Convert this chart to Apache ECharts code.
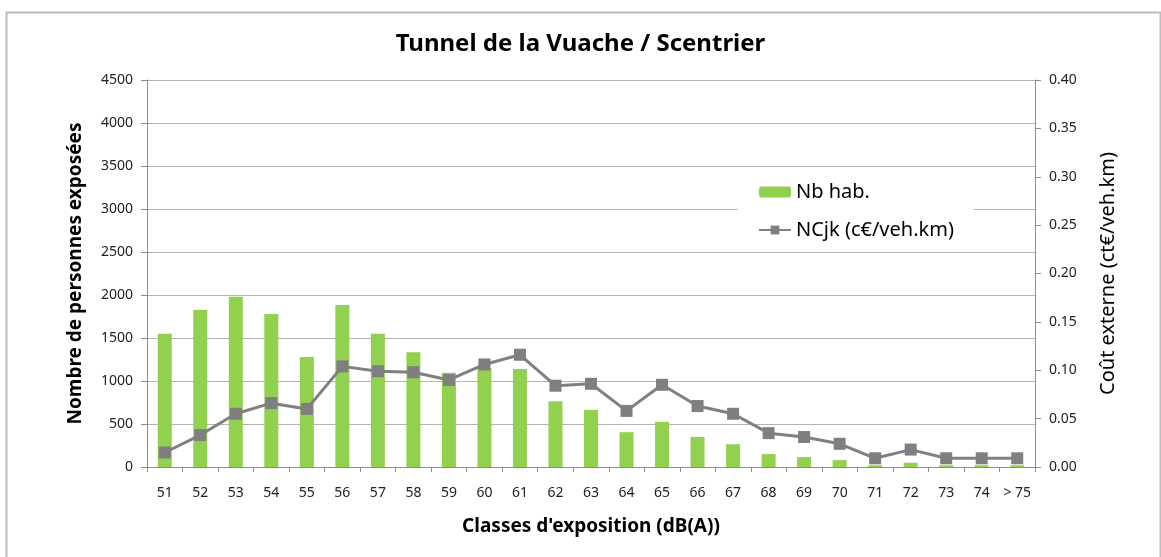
<!DOCTYPE html>
<html>
<head>
<meta charset="utf-8">
<script src="https://cdn.jsdelivr.net/npm/echarts@6/dist/echarts.min.js"></script>
<style>
  html, body { margin: 0; padding: 0; background: #fff; }
  #mainChart { width: 1161px; height: 557px; }
</style>
</head>
<body>
<div id="mainChart"></div>
<script>
// exposure classes dB(A)
var classes = ['51', '52', '53', '54', '55', '56', '57', '58', '59', '60', '61', '62', '63',
    '64', '65', '66', '67', '68', '69', '70', '71', '72', '73', '74', '> 75'];

// number of inhabitants exposed (left axis)
var nbHab = [1550, 1825, 1980, 1780, 1280, 1885, 1550, 1335, 1095, 1150, 1140, 765, 665,
    405, 525, 350, 265, 150, 115, 80, 20, 50, 20, 20, 20];

// external cost c€/veh.km (right axis)
var ncjk = [0.015, 0.033, 0.055, 0.066, 0.060, 0.104, 0.099, 0.098, 0.090, 0.106, 0.116, 0.084, 0.086,
    0.058, 0.085, 0.063, 0.055, 0.035, 0.031, 0.024, 0.009, 0.018, 0.009, 0.009, 0.009];

var font = 'Noto Sans';
var myChart = echarts.init(document.getElementById('mainChart'));

var option = {
    backgroundColor: '#fff',
    animation: false,
    textStyle: { fontFamily: font },
    title: {
        text: 'Tunnel de la Vuache / Scentrier',
        left: 'center',
        top: 27,
        textStyle: { fontFamily: font, fontSize: 24, fontWeight: 'bold', color: '#000' }
    },
    graphic: [{
        type: 'rect',
        left: 4, top: 10,
        shape: { width: 1154, height: 550 },
        style: { fill: 'none', stroke: '#bdbdbd', lineWidth: 2 },
        silent: true
    }],
    legend: {
        orient: 'vertical',
        left: 738,
        top: 176,
        padding: [6, 20, 6, 20],
        itemGap: 18,
        itemWidth: 32,
        itemHeight: 11,
        backgroundColor: '#fff',
        textStyle: { fontFamily: font, fontSize: 20, color: '#000' },
        data: ['Nb hab.', 'NCjk (c€/veh.km)']
    },
    grid: { left: 147, right: 126, top: 80, bottom: 90 },
    xAxis: {
        type: 'category',
        data: classes,
        name: "Classes d'exposition (dB(A))",
        nameLocation: 'middle',
        nameGap: 50,
        nameTextStyle: { fontFamily: font, fontSize: 19, fontWeight: 'bold', color: '#000' },
        axisLine: { lineStyle: { color: '#8c8c8c' } },
        axisTick: { show: true, length: 5, interval: 0, lineStyle: { color: '#8c8c8c' } },
        axisLabel: { fontSize: 14, color: '#222', margin: 19, interval: 0, hideOverlap: false }
    },
    yAxis: [{
        type: 'value',
        min: 0, max: 4500, interval: 500,
        name: 'Nombre de personnes exposées',
        nameLocation: 'middle',
        nameGap: 62,
        nameTextStyle: { fontFamily: font, fontSize: 19, fontWeight: 'bold', color: '#000' },
        axisLine: { show: true, lineStyle: { color: '#8c8c8c' } },
        axisTick: { show: true, length: 6, lineStyle: { color: '#8c8c8c' } },
        axisLabel: { fontSize: 14, color: '#222', margin: 14,
            formatter: function (v) { return String(v); } },
        splitLine: { lineStyle: { color: '#b3b3b3', width: 1 } }
    }, {
        type: 'value',
        min: 0, max: 0.4, interval: 0.05,
        name: 'Coût externe (ct€/veh.km)',
        nameLocation: 'middle',
        nameGap: 63,
        nameTextStyle: { fontFamily: font, fontSize: 20, color: '#000' },
        axisLine: { show: true, lineStyle: { color: '#8c8c8c' } },
        axisTick: { show: true, length: 6, lineStyle: { color: '#8c8c8c' } },
        axisLabel: { fontSize: 14, color: '#222', margin: 14,
            formatter: function (v) { return v.toFixed(2); } },
        splitLine: { show: false }
    }],
    series: [{
        name: 'Nb hab.',
        type: 'bar',
        data: nbHab,
        barWidth: 14,
        itemStyle: { color: '#92d050' }
    }, {
        name: 'NCjk (c€/veh.km)',
        type: 'line',
        yAxisIndex: 1,
        data: ncjk,
        symbol: 'rect',
        symbolSize: 12,
        lineStyle: { color: '#808080', width: 3 },
        itemStyle: { color: '#7f7f7f' }
    }]
};

myChart.setOption(option);
</script>
</body>
</html>
